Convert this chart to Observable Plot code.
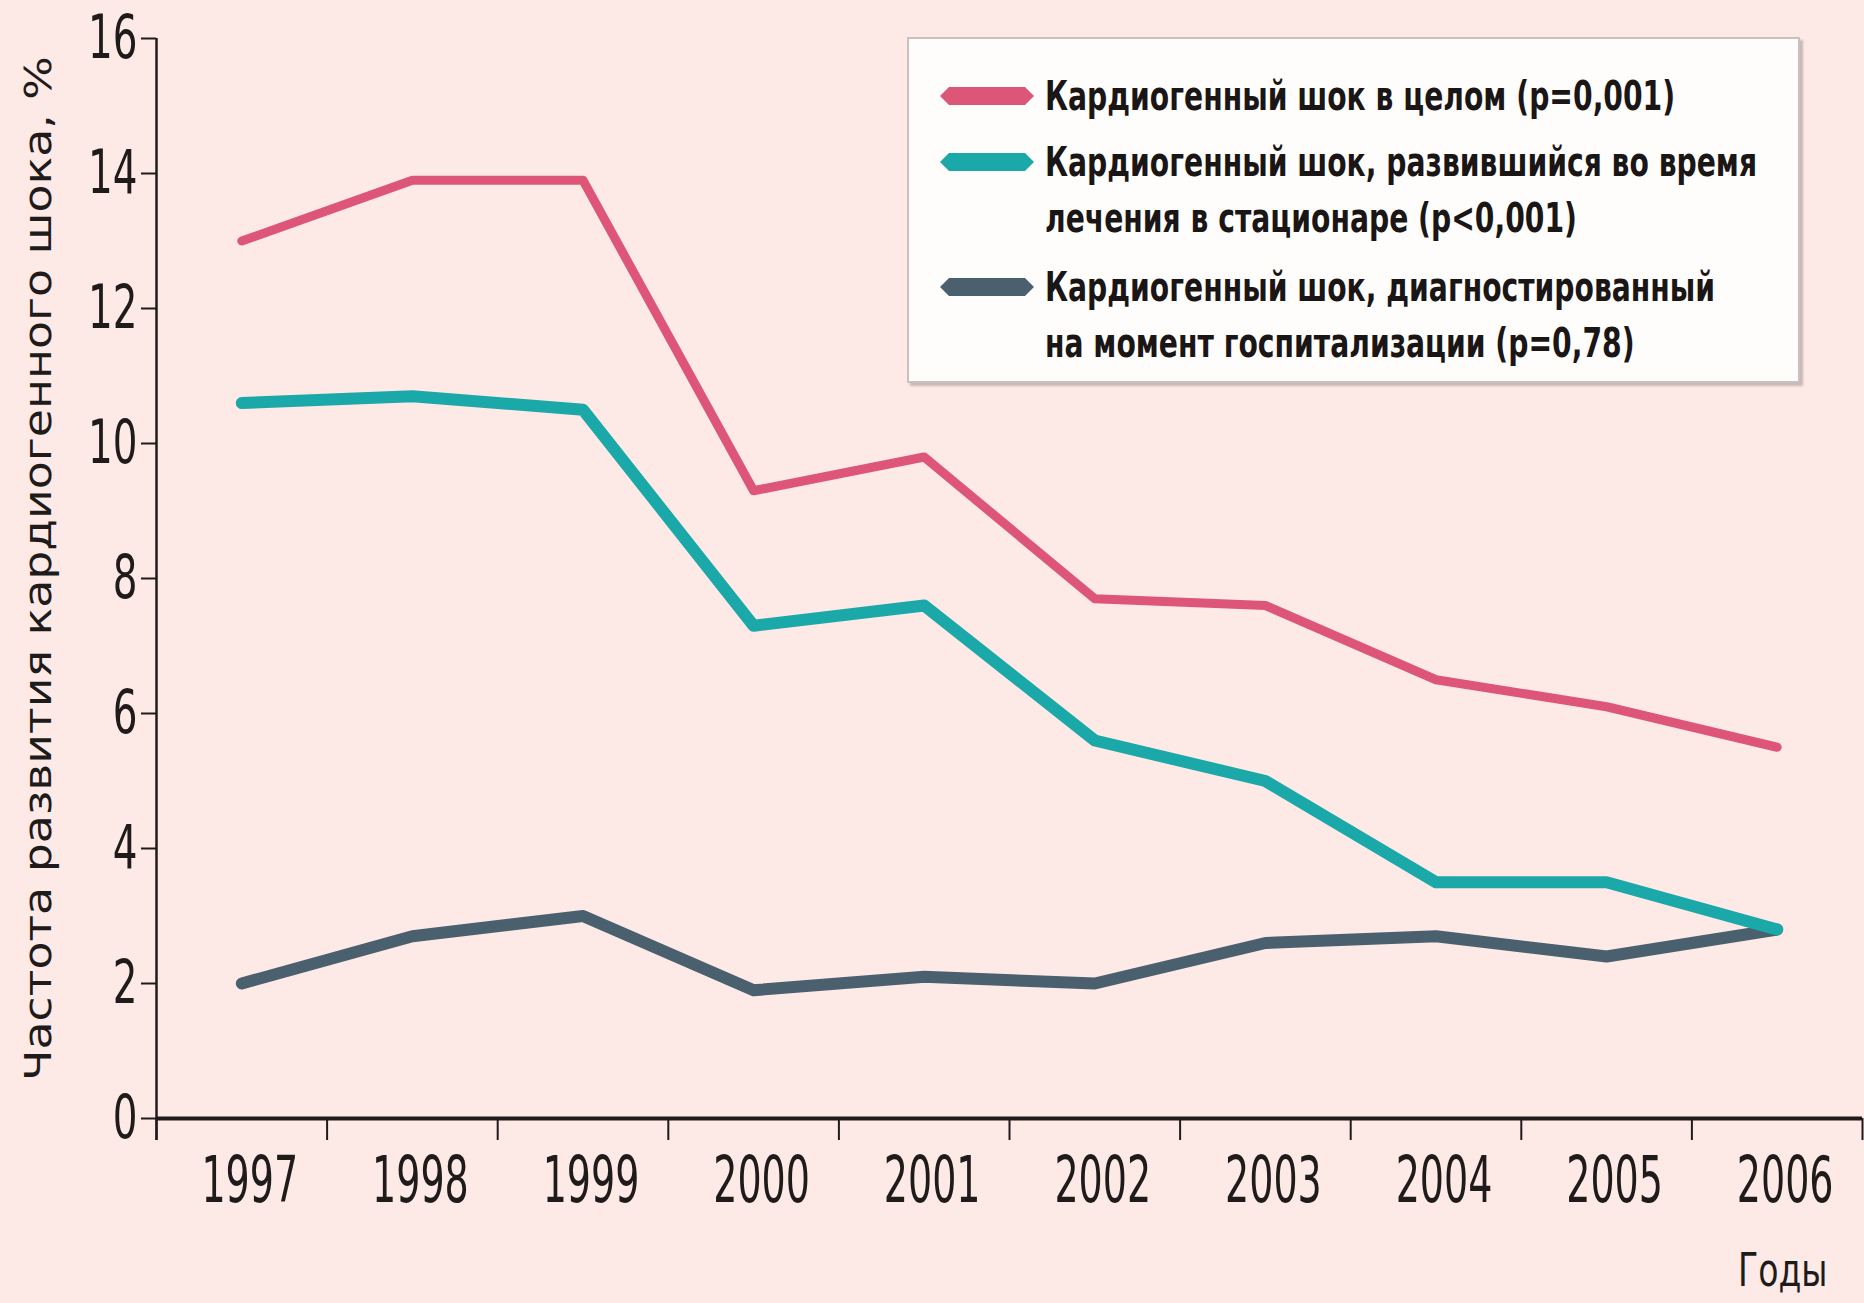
<!DOCTYPE html>
<html>
<head>
<meta charset="utf-8">
<script src="https://cdn.jsdelivr.net/npm/d3@7"></script>
<script src="https://cdn.jsdelivr.net/npm/@observablehq/plot@0.6"></script>
<style>
  html, body { margin: 0; padding: 0; background: #fde9e6; }
  #wrap { position: relative; width: 1864px; height: 1303px; background: #fde9e6; overflow: hidden; }
  #chart svg { display: block; }
  #legend {
    position: absolute; left: 907px; top: 37px; width: 889px; height: 342px;
    background: #fffcfc; border: 2px solid #c9c1c0;
    box-shadow: 3px 3px 2px rgba(110, 95, 95, 0.35);
    font-family: "DejaVu Sans Condensed", "Liberation Sans Narrow", sans-serif;
    font-weight: bold; font-size: 41px; color: #1a1616;
  }
  .entry { position: absolute; left: 136px; line-height: 56px; white-space: nowrap;
           transform: scaleX(0.765); transform-origin: 0 0; }
  .swatch { position: absolute; left: 31px; }
</style>
</head>
<body>
<div id="wrap">
  <div id="chart"></div>
  <div id="legend"></div>
</div>
<script>
// ---- data ----
const years = [1997, 1998, 1999, 2000, 2001, 2002, 2003, 2004, 2005, 2006];
const totalShock = [13.0, 13.9, 13.9, 9.3, 9.8, 7.7, 7.6, 6.5, 6.1, 5.5];
const inHospitalShock = [10.6, 10.7, 10.5, 7.3, 7.6, 5.6, 5.0, 3.5, 3.5, 2.8];
const admissionShock = [2.0, 2.7, 3.0, 1.9, 2.1, 2.0, 2.6, 2.7, 2.4, 2.8];
const yTicks = [0, 2, 4, 6, 8, 10, 12, 14, 16];

const seriesNames = [
  ["Кардиогенный шок в целом (р=0,001)"],
  ["Кардиогенный шок, развившийся во время", "лечения в стационаре (р<0,001)"],
  ["Кардиогенный шок, диагностированный", "на момент госпитализации (р=0,78)"]
];
const seriesColors = ["#de5677", "#1ba8a8", "#4b606e"];
const yTitle = "Частота развития кардиогенного шока, %";
const xTitle = "Годы";

const rows = (vals, s) => years.map((yr, i) => ({year: yr, value: vals[i], series: s}));
const dTotal = rows(totalShock, 0);
const dHosp = rows(inHospitalShock, 1);
const dAdm = rows(admissionShock, 2);

const x0 = years[0] - 0.5, x1 = years[years.length - 1] + 0.5;
const boundaries = d3.range(years.length + 1).map(i => x0 + i);

const font = "'DejaVu Sans Condensed', 'Liberation Sans Narrow', sans-serif";
const ink = "#201b1b";

const chart = Plot.plot({
  width: 1864,
  height: 1303,
  marginLeft: 156,
  marginRight: 2,
  marginTop: 38,
  marginBottom: 185,
  style: {background: "transparent", fontFamily: font, color: ink, overflow: "visible"},
  x: {domain: [x0, x1]},
  y: {domain: [0, 16]},
  marks: [
    Plot.axisY({ticks: yTicks, tickSize: 15, tickPadding: 4, fontSize: 60, strokeWidth: 2, label: null}),
    Plot.axisX({ticks: boundaries, tickSize: 22, tickFormat: () => "", strokeWidth: 2, label: null}),
    Plot.axisX({ticks: years, tickSize: 0, tickPadding: 38, fontSize: 64, dx: 8, tickFormat: d => String(d), label: null}),
    Plot.ruleX([x0], {stroke: ink, strokeWidth: 2.5, insetBottom: -22}),
    Plot.ruleY([0], {stroke: ink, strokeWidth: 4}),
    Plot.line(dAdm, {x: "year", y: "value", stroke: seriesColors[2], strokeWidth: 12, strokeLinecap: "round", strokeLinejoin: "round"}),
    Plot.line(dHosp, {x: "year", y: "value", stroke: seriesColors[1], strokeWidth: 12, strokeLinecap: "round", strokeLinejoin: "round"}),
    Plot.line(dTotal, {x: "year", y: "value", stroke: seriesColors[0], strokeWidth: 9, strokeLinecap: "round", strokeLinejoin: "round"}),
    Plot.text([xTitle], {frameAnchor: "bottom-right", textAnchor: "end", lineAnchor: "middle", dx: -35, dy: 153, fontSize: 46, fill: ink}),
    Plot.text([yTitle], {frameAnchor: "left", rotate: -90, textAnchor: "middle", lineAnchor: "middle", dx: -118, dy: -10, fontSize: 38, fill: ink, fontFamily: "'DejaVu Sans', sans-serif"})
  ]
});
document.getElementById("chart").appendChild(chart);

// horizontal squeeze of texts (the reference typeface is condensed)
function squeeze(sel, s) {
  sel.each(function () {
    const t = this.getAttribute("transform") || "";
    const x = +this.getAttribute("x") || 0;
    const y = +this.getAttribute("y") || 0;
    this.setAttribute("transform", `${t} translate(${x},${y}) scale(${s},1) translate(${-x},${-y})`);
  });
}
const svg = d3.select(chart);
squeeze(svg.selectAll('g[aria-label="y-axis tick label"] text'), 0.72);
squeeze(svg.selectAll('g[aria-label="x-axis tick label"] text'), 0.66);
squeeze(svg.selectAll("text").filter(function () { return this.textContent === xTitle; }), 0.8);
svg.selectAll("text").filter(function () { return this.textContent === yTitle; }).each(function () {
  const len = this.getComputedTextLength();
  squeeze(d3.select(this), 1025 / len);
});

// ---- legend ----
const legend = d3.select("#legend");
const entryTops = [57, 123, 248];
seriesNames.forEach((lines, i) => {
  const cy = entryTops[i];
  const sw = legend.append("svg").attr("class", "swatch")
    .attr("width", 94).attr("height", 18)
    .style("top", (cy - 9) + "px");
  sw.append("polygon")
    .attr("points", "0,9 9,0 85,0 94,9 85,18 9,18")
    .attr("fill", seriesColors[i]);
  legend.append("div").attr("class", "entry")
    .style("top", (cy - 28) + "px")
    .html(lines.map(l => l.replace(/</g, "&lt;")).join("<br>"));
});
</script>
</body>
</html>
